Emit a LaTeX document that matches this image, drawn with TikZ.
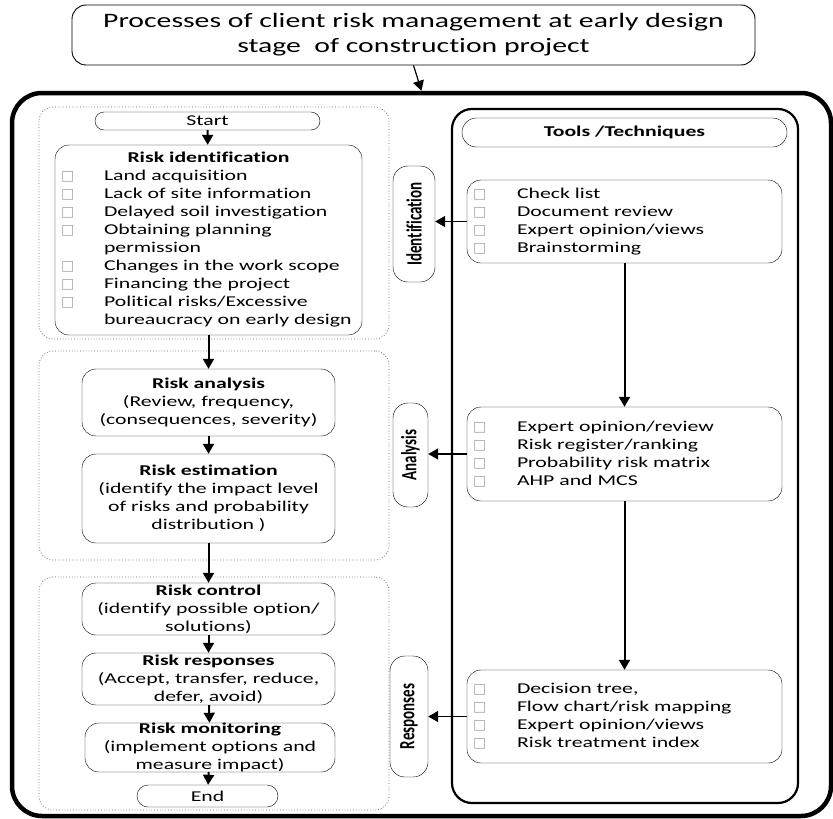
\documentclass[tikz,border=0pt]{standalone}
\usepackage{fontspec}
\usepackage{graphicx}
\setmainfont{Carlito}[FakeStretch=1.45, Ligatures=NoCommon]
\newfontfamily\plainfont{Carlito}[Ligatures=NoCommon]
\newfontfamily\symfont{DejaVu Sans}
\usetikzlibrary{arrows.meta}
\definecolor{dotgray}{HTML}{6E6E6E}
\definecolor{boxgray}{HTML}{A6A6A6}
\newcommand\bodytext{\fontsize{15}{18}\selectfont}
\newcommand\chkbox{{\symfont\fontsize{14}{14}\selectfont\color{boxgray}□}}
\newcommand\riskitem[2][43pt]{\makebox[#1][l]{\chkbox}#2}

\begin{document}
\begin{tikzpicture}[x=1pt, y=-1pt,
    heading/.style={draw, line width=0.9pt, rounded corners=14pt, minimum width=683pt, minimum height=60pt, align=center, font=\fontsize{20.5}{25}\selectfont},
    frame/.style={draw, line width=4.5pt, rounded corners=30pt, minimum width=819pt, minimum height=723pt},
    panel/.style={draw=dotgray, dotted, line width=0.8pt, rounded corners=14pt, minimum width=350pt},
    pill/.style={draw, rounded corners=9pt, inner sep=0pt, font=\bodytext},
    stepbox/.style={draw, rounded corners=14pt, minimum width=253pt, inner xsep=2pt, inner ysep=0pt, align=center, font=\bodytext},
    listbox/.style={draw, rounded corners=14pt, inner xsep=6pt, inner ysep=0pt, align=left, font=\bodytext},
    phase/.style={draw, rounded corners=15pt, inner sep=0pt, rotate=90, font=\plainfont\bfseries\fontsize{15}{18}\selectfont},
    arrow/.style={-{Triangle[length=10pt,width=11pt]}, line width=2pt}
]
\useasboundingbox (0,0) rectangle (833,819);
\node[heading] (title) at (413.5,35) {Processes of client risk management at early design\\stage~ of construction project};
\node[frame] (frame) at (421.5,454.5) {};
\node[panel, minimum height=232pt] (idpanel) at (214,223) {};
\node[panel, minimum height=209pt] (anpanel) at (214,455.5) {};
\node[panel, minimum height=233pt] (repanel) at (214,693.5) {};

\node[pill, minimum width=225pt, minimum height=18pt] (start) at (207.5,121) {Start};
\node[listbox, text width=295pt, minimum height=190pt] (riskid) at (208.5,240) {\makebox[\linewidth]{\textbf{Risk identification}}\\
  \riskitem{Land acquisition}\\
  \riskitem{Lack of site information}\\
  \riskitem{Delayed soil investigation}\\
  \riskitem{Obtaining planning}\\
  \hspace*{43pt}permission\\
  \riskitem{Changes in the work scope}\\
  \riskitem{Financing the project}\\
  \riskitem{Political risks/Excessive}\\
  \hspace*{43pt}bureaucracy on early design};
\node[stepbox, minimum height=67pt] (analysis) at (208.5,402.5) {\textbf{Risk analysis}\\(Review, frequency,\\(consequences, severity)};
\node[stepbox, minimum height=89pt] (estimation) at (208.5,498.5) {\textbf{Risk estimation}\\(identify the impact level\\of risks and probability\\distribution )};
\node[stepbox, minimum height=52pt] (control) at (208.5,609) {\textbf{Risk control}\\(identify possible option/\\solutions)};
\node[stepbox, minimum height=52pt] (responses) at (208.5,679) {\textbf{Risk responses}\\(Accept, transfer, reduce,\\defer, avoid)};
\node[stepbox, minimum width=250pt, minimum height=49pt] (monitoring) at (210,747.5) {\textbf{Risk monitoring}\\(implement options and\\measure impact)};
\node[pill, minimum width=141pt, minimum height=22pt, rounded corners=11pt] (end) at (207.5,796) {End};

\node[draw, line width=2.2pt, rounded corners=20pt, minimum width=346pt, minimum height=694pt] (toolpanel) at (625,456) {};
\node[pill, minimum width=325pt, minimum height=29pt, rounded corners=14.5pt, font=\bodytext\bfseries] (toolhead) at (624.5,132.5) {Tools /Techniques};
\node[listbox, text width=303pt, minimum height=83pt] (idtools) at (624.5,221.5) {\riskitem[44pt]{Check list}\\
  \riskitem[44pt]{Document review}\\
  \riskitem[44pt]{Expert opinion/views}\\
  \riskitem[44pt]{Brainstorming}};
\node[listbox, text width=303pt, minimum height=94pt] (antools) at (624.5,454) {\riskitem[44pt]{Expert opinion/review}\\
  \riskitem[44pt]{Risk register/ranking}\\
  \riskitem[44pt]{Probability risk matrix}\\
  \riskitem[44pt]{AHP and MCS}};
\node[listbox, text width=303pt, minimum height=93pt] (retools) at (624.5,716.5) {\riskitem[44pt]{Decision tree,}\\
  \riskitem[44pt]{Flow chart/risk mapping}\\
  \riskitem[44pt]{Expert opinion/views}\\
  \riskitem[44pt]{Risk treatment index}};

\node[phase, minimum width=116pt, minimum height=42pt] (idphase) at (414,224) {\scalebox{1}[1.45]{Identification}};
\node[phase, minimum width=104pt, minimum height=35pt] (anphase) at (410.5,455) {\scalebox{1}[1.45]{Analysis}};
\node[phase, minimum width=121pt, minimum height=38pt] (rephase) at (409,716.5) {\scalebox{1}[1.45]{Responses}};

\draw[arrow, line width=1.2pt] (title.south) -- (frame.north);
\draw[arrow] (start) -- (riskid);
\draw[arrow] (riskid) -- (analysis);
\draw[arrow] (analysis) -- (estimation);
\draw[arrow] (estimation) -- (control);
\draw[arrow] (control) -- (responses);
\draw[arrow] (responses) -- (monitoring);
\draw[arrow] (monitoring) -- (end);
\draw[arrow] (idtools) -- (antools);
\draw[arrow] (antools) -- (retools);
\draw[arrow, line width=1.5pt] (idtools.west) -- (idtools.west -| idphase.south);
\draw[arrow, line width=1.5pt] (antools.west) -- (antools.west -| anphase.south);
\draw[arrow, line width=1.5pt] (retools.west) -- (retools.west -| rephase.south);
\end{tikzpicture}
\end{document}
